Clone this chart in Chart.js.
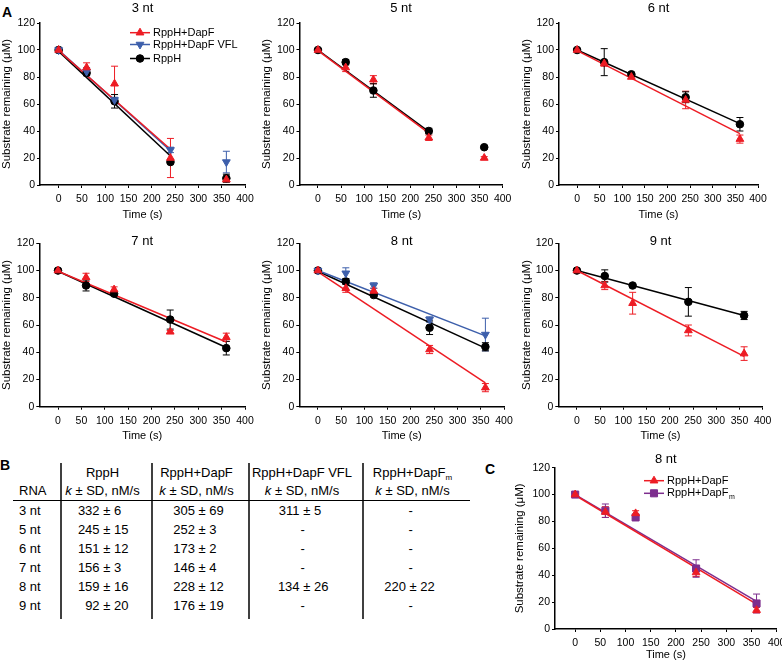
<!DOCTYPE html>
<html><head><meta charset="utf-8">
<script src="https://cdn.jsdelivr.net/npm/chart.js@4/dist/chart.umd.min.js"></script>
<style>
html,body{margin:0;padding:0;background:#fff;overflow:hidden;width:782px;height:663px;}
body{position:relative;font-family:'Liberation Sans',Arial,Helvetica,sans-serif;color:#000;}
canvas{position:absolute;}
.lbl{position:absolute;font-weight:bold;font-size:14px;line-height:14px;}
#tbl{position:absolute;left:13px;top:463px;border-collapse:collapse;table-layout:fixed;width:457px;font-size:13px;}
#tbl td{padding:0;height:19px;line-height:19px;white-space:nowrap;vertical-align:middle;}
#tbl tr.h2 td{border-bottom:1.5px solid #000;height:18px;line-height:18px;}
#tbl td.c{text-align:center;padding-right:8px;}
#tbl td.rna{padding-left:6px;}
#tbl .n{display:inline-block;width:26px;text-align:right;}
#tbl sub{font-size:8px;vertical-align:-3px;line-height:0;}
#vlines{position:absolute;left:0;top:460px;z-index:10;}
</style></head><body>
<div class="lbl" style="left:2px;top:5px">A</div>
<div class="lbl" style="left:0px;top:458px">B</div>
<div class="lbl" style="left:485px;top:462px">C</div>

<canvas id="c3" width="262" height="222" style="left:0px;top:0px"></canvas>
<canvas id="c5" width="262" height="222" style="left:260px;top:0px"></canvas>
<canvas id="c6" width="262" height="222" style="left:520px;top:0px"></canvas>
<canvas id="c7" width="262" height="218" style="left:0px;top:225px"></canvas>
<canvas id="c8" width="262" height="218" style="left:260px;top:225px"></canvas>
<canvas id="c9" width="262" height="218" style="left:520px;top:225px"></canvas>
<canvas id="cC" width="290" height="223" style="left:505px;top:440px"></canvas>

<table id="tbl"><colgroup><col style="width:48px"><col style="width:91px"><col style="width:97px"><col style="width:114px"><col style="width:107px"></colgroup><tbody id="tb"></tbody></table>
<svg id="vlines" width="480" height="165" xmlns="http://www.w3.org/2000/svg">
  <g stroke="#000" stroke-width="1.5">
    <line x1="61" y1="3" x2="61" y2="159"/>
    <line x1="152" y1="3" x2="152" y2="159"/>
    <line x1="249" y1="3" x2="249" y2="159"/>
    <line x1="363" y1="3" x2="363" y2="159"/>
  </g>
</svg>

<script>
const FONT = "'Liberation Sans', Arial, Helvetica, sans-serif";
Chart.defaults.font.family = FONT;
Chart.defaults.color = '#000';

// ---------- shared axis data ----------
const times = [0, 60, 120, 240, 360];
const xTickValues = [0, 50, 100, 150, 200, 250, 300, 350, 400];
const yTickValues = [0, 20, 40, 60, 80, 100, 120];
const fitShort = [0, 240];
const fitLong = [0, 360];

// ---------- 3 nt ----------
const nt3Dapf = [100, 87, 75, 20, 4];
const nt3DapfSd = [1, 3.5, 13, 14.5, 1];
const nt3Vfl = [100, 84, 63, 26, 17];
const nt3VflSd = [2, 3, 2, 2, 8];
const nt3Rpph = [100, 83, 62, 17, 5];
const nt3RpphSd = [1, 2, 5, 1, 3];
const nt3DapfFit = [99.5, 26.5];
const nt3VflFit = [100, 25.5];
const nt3RpphFit = [99, 21.5];

// ---------- 5 nt ----------
const nt5Dapf = [100, 87, 78, 35, 20];
const nt5DapfSd = [1, 3, 3, 2, 1];
const nt5Rpph = [100, 91, 70, 40, 28];
const nt5RpphSd = [1, 2, 5, 2, 1];
const nt5DapfFit = [99.5, 38.5];
const nt5RpphFit = [100, 39.5];

// ---------- 6 nt ----------
const nt6Dapf = [100, 90, 80, 63, 34];
const nt6DapfSd = [1, 2, 1, 6.5, 3];
const nt6Rpph = [100, 91, 82, 65, 45];
const nt6RpphSd = [1, 10, 1, 4, 5];
const nt6DapfFit = [99.5, 38];
const nt6RpphFit = [100, 45.5];

// ---------- 7 nt ----------
const nt7Dapf = [100, 95, 86, 55, 51];
const nt7DapfSd = [1, 3, 2, 1, 3];
const nt7Rpph = [100, 89, 83, 64, 43];
const nt7RpphSd = [1, 4, 1, 7, 5];
const nt7DapfFit = [99.5, 47.5];
const nt7RpphFit = [99.5, 43.5];

// ---------- 8 nt ----------
const nt8Dapf = [100, 87, 85, 42, 14];
const nt8DapfSd = [1, 3, 2, 3, 3];
const nt8Vfl = [100, 98, 89, 64, 53];
const nt8VflSd = [1, 4, 2, 2, 12];
const nt8Rpph = [100, 92, 82, 58, 44];
const nt8RpphSd = [1, 2, 1, 5, 3];
const nt8DapfFit = [99, 17.5];
const nt8VflFit = [100, 52];
const nt8RpphFit = [99.5, 43];

// ---------- 9 nt ----------
const nt9Dapf = [100, 89, 76, 56, 39];
const nt9DapfSd = [1, 3, 8, 4, 5];
const nt9Rpph = [100, 96, 89, 77, 67];
const nt9RpphSd = [1, 4.5, 1, 10.5, 3];
const nt9DapfFit = [100, 37];
const nt9RpphFit = [100, 67];

// ---------- panel C (8 nt) ----------
const cDapf = [100, 87, 86, 42, 14];
const cDapfSd = [1, 4, 2, 3, 2];
const cDapfm = [100, 88, 83, 45, 19];
const cDapfmSd = [1, 5, 1, 6.5, 7];
const cDapfFit = [99.5, 18.5];
const cDapfmFit = [100, 20.5];

// ---------- table B ----------
const rnaLabels = ['3 nt', '5 nt', '6 nt', '7 nt', '8 nt', '9 nt'];
const kRpph = [332, 245, 151, 156, 159, 92];
const sdRpph = [6, 15, 12, 3, 16, 20];
const kDapf = [305, 252, 173, 146, 228, 176];
const sdDapf = [69, 3, 2, 4, 12, 19];
const kVfl = [311, null, null, null, 134, null];
const sdVfl = [5, null, null, null, 26, null];
const kDapfm = [null, null, null, null, 220, null];
const sdDapfm = [null, null, null, null, 22, null];

// ---------- styles ----------
const RED = '#ed1c24', BLUE = '#3d5fab', BLACK = '#000000', PURPLE = '#7d2e8e';

function pts(label, ys, sd, color, style, rot, radius, sub) {
  return {
    label: label, sub: sub || '',
    data: times.map((t, i) => ({x: t, y: ys[i]})),
    errorBars: sd, showLine: false,
    pointStyle: style, pointRotation: rot, pointRadius: radius,
    backgroundColor: color, borderColor: color, pointBorderWidth: 1
  };
}
function fit(xs, ys, color) {
  return {
    label: '', isFit: true,
    data: xs.map((x, i) => ({x: x, y: ys[i]})),
    showLine: true, pointRadius: 0, borderColor: color, backgroundColor: color, borderWidth: 1.5
  };
}

const errorBarPlugin = {
  id: 'errorBars',
  beforeDatasetsDraw(chart) {
    const ctx = chart.ctx, xs = chart.scales.x, ys = chart.scales.y;
    ctx.save();
    chart.data.datasets.forEach(ds => {
      if (!ds.errorBars) return;
      ctx.strokeStyle = ds.borderColor; ctx.lineWidth = 1;
      ds.data.forEach((p, i) => {
        const e = ds.errorBars[i]; if (!e) return;
        const px = xs.getPixelForValue(p.x);
        const yt = ys.getPixelForValue(p.y + e), yb = ys.getPixelForValue(p.y - e);
        ctx.beginPath();
        ctx.moveTo(px, yt); ctx.lineTo(px, yb);
        ctx.moveTo(px - 3.5, yt); ctx.lineTo(px + 3.5, yt);
        ctx.moveTo(px - 3.5, yb); ctx.lineTo(px + 3.5, yb);
        ctx.stroke();
      });
    });
    ctx.restore();
  }
};

const lineLegendPlugin = {
  id: 'lineLegend',
  afterDraw(chart, args, opts) {
    if (!opts || !opts.ys) return;
    const ctx = chart.ctx;
    const items = chart.data.datasets.filter(d => !d.isFit);
    items.forEach((ds, i) => {
      const y = opts.ys[i];
      ctx.save();
      ctx.strokeStyle = ds.borderColor; ctx.fillStyle = ds.backgroundColor; ctx.lineWidth = 1.5;
      ctx.beginPath(); ctx.moveTo(opts.x0, y); ctx.lineTo(opts.x1, y); ctx.stroke();
      ctx.lineWidth = 1;
      Chart.helpers.drawPoint(ctx, {pointStyle: ds.pointStyle, rotation: ds.pointRotation || 0, radius: ds.pointRadius, borderWidth: 1}, (opts.x0 + opts.x1) / 2, y);
      ctx.fillStyle = '#000';
      ctx.font = '11px ' + FONT;
      ctx.textBaseline = 'middle'; ctx.textAlign = 'left';
      ctx.fillText(ds.label, opts.tx, y);
      if (ds.sub) {
        const w = ctx.measureText(ds.label).width;
        ctx.font = '7px ' + FONT;
        ctx.fillText(ds.sub, opts.tx + w + 0.5, y + 4);
      }
      ctx.restore();
    });
  }
};

function makeScales(cfg) {
  const grid = {display: true, drawOnChartArea: false, drawTicks: true, tickLength: 3, tickColor: '#000', tickWidth: 1};
  const border = {display: true, color: '#000', width: 1.5};
  return {
    x: {
      type: 'linear', min: -40, max: 400,
      afterBuildTicks: s => { s.ticks = xTickValues.map(v => ({value: v})); },
      afterFit: s => { s.height = cfg.xh; },
      grid: grid, border: border,
      ticks: {color: '#000', font: {size: 10.5}, padding: 5, maxRotation: 0, minRotation: 0, autoSkip: false},
      title: {display: true, text: 'Time (s)', color: '#000', font: {size: 11}, padding: {top: 0, bottom: cfg.xtpb}}
    },
    y: {
      type: 'linear', min: 0, max: 120,
      afterBuildTicks: s => { s.ticks = yTickValues.map(v => ({value: v})); },
      afterFit: s => { s.width = cfg.yw; },
      grid: grid, border: border,
      ticks: {color: '#000', font: {size: 10.5}, padding: 2},
      title: {display: true, text: 'Substrate remaining (μM)', color: '#000', font: {size: 11.5}, padding: {top: cfg.ytpt, bottom: 0}}
    }
  };
}

function makeChart(id, cfg) {
  return new Chart(document.getElementById(id), {
    type: 'scatter',
    data: {datasets: cfg.datasets},
    options: {
      responsive: false, animation: false, devicePixelRatio: 1,
      layout: {padding: {left: 0, right: cfg.pr, top: 0, bottom: 0}},
      plugins: {
        legend: {display: false}, tooltip: {enabled: false},
        title: {display: true, text: cfg.title, fullSize: false, color: '#000', font: {size: 13, weight: 'normal'}, padding: {top: cfg.tpt, bottom: cfg.tpb}},
        lineLegend: cfg.legend || {}
      },
      scales: makeScales(cfg)
    },
    plugins: [errorBarPlugin, lineLegendPlugin]
  });
}

const row1 = {xh: 37, xtpb: 0.4, tpt: 0.2, tpb: 7.2, ytpt: 0};
const row2 = {xh: 36.3, xtpb: 0.4, tpt: 8.9, tpb: -6.2, ytpt: 0};

makeChart('c3', Object.assign({}, row1, {title: '3 nt', yw: 40, pr: 17,
  legend: {x0: 130, x1: 150, tx: 153, ys: [32.7, 44.5, 58.5]},
  datasets: [
    pts('RppH+DapF', nt3Dapf, nt3DapfSd, RED, 'triangle', 0, 4.5),
    pts('RppH+DapF VFL', nt3Vfl, nt3VflSd, BLUE, 'triangle', 180, 4.5),
    pts('RppH', nt3Rpph, nt3RpphSd, BLACK, 'circle', 0, 3.8),
    fit(fitShort, nt3DapfFit, RED), fit(fitShort, nt3VflFit, BLUE), fit(fitShort, nt3RpphFit, BLACK)
  ]}));

makeChart('c5', Object.assign({}, row1, {title: '5 nt', yw: 39.5, pr: 19.3,
  datasets: [
    pts('RppH+DapF', nt5Dapf, nt5DapfSd, RED, 'triangle', 0, 4.5),
    pts('RppH', nt5Rpph, nt5RpphSd, BLACK, 'circle', 0, 3.8),
    fit(fitShort, nt5DapfFit, RED), fit(fitShort, nt5RpphFit, BLACK)
  ]}));

makeChart('c6', Object.assign({}, row1, {title: '6 nt', yw: 39, pr: 24,
  datasets: [
    pts('RppH+DapF', nt6Dapf, nt6DapfSd, RED, 'triangle', 0, 4.5),
    pts('RppH', nt6Rpph, nt6RpphSd, BLACK, 'circle', 0, 3.8),
    fit(fitLong, nt6DapfFit, RED), fit(fitLong, nt6RpphFit, BLACK)
  ]}));

makeChart('c7', Object.assign({}, row2, {title: '7 nt', yw: 39.3, pr: 17,
  datasets: [
    pts('RppH+DapF', nt7Dapf, nt7DapfSd, RED, 'triangle', 0, 4.5),
    pts('RppH', nt7Rpph, nt7RpphSd, BLACK, 'circle', 0, 3.8),
    fit(fitLong, nt7DapfFit, RED), fit(fitLong, nt7RpphFit, BLACK)
  ]}));

makeChart('c8', Object.assign({}, row2, {title: '8 nt', yw: 39.3, pr: 18,
  datasets: [
    pts('RppH+DapF', nt8Dapf, nt8DapfSd, RED, 'triangle', 0, 4.5),
    pts('RppH+DapF VFL', nt8Vfl, nt8VflSd, BLUE, 'triangle', 180, 4.5),
    pts('RppH', nt8Rpph, nt8RpphSd, BLACK, 'circle', 0, 3.8),
    fit(fitLong, nt8DapfFit, RED), fit(fitLong, nt8VflFit, BLUE), fit(fitLong, nt8RpphFit, BLACK)
  ]}));

makeChart('c9', Object.assign({}, row2, {title: '9 nt', yw: 38.3, pr: 19.3,
  datasets: [
    pts('RppH+DapF', nt9Dapf, nt9DapfSd, RED, 'triangle', 0, 4.5),
    pts('RppH', nt9Rpph, nt9RpphSd, BLACK, 'circle', 0, 3.8),
    fit(fitLong, nt9DapfFit, RED), fit(fitLong, nt9RpphFit, BLACK)
  ]}));

makeChart('cC', {title: '8 nt', yw: 50, pr: 18.3, xh: 34, xtpb: 1.4, tpt: 11.2, tpb: 0.9, ytpt: 8.1,
  legend: {x0: 139, x1: 159, tx: 162, ys: [40.7, 53.3]},
  datasets: [
    pts('RppH+DapF', cDapf, cDapfSd, RED, 'triangle', 0, 4.5),
    pts('RppH+DapF', cDapfm, cDapfmSd, PURPLE, 'rect', 0, 5, 'm'),
    fit(fitLong, cDapfFit, RED), fit(fitLong, cDapfmFit, PURPLE)
  ]});

// ---------- table ----------
(function buildTable() {
  const tb = document.getElementById('tb');
  const kPad = [12.6, 17, 24.6, 17];
  const dashPad = [0, 0, 51.5, 45.5];
  const heads1 = ['RppH', 'RppH+DapF', 'RppH+DapF VFL', 'RppH+DapF<sub>m</sub>'];
  let h = '<tr class="h1"><td></td>' + heads1.map(t => '<td class="c">' + t + '</td>').join('') + '</tr>';
  h += '<tr class="h2"><td class="rna">RNA</td>' + heads1.map(() => '<td class="c"><i>k</i> ± SD, nM/s</td>').join('') + '</tr>';
  const cols = [[kRpph, sdRpph], [kDapf, sdDapf], [kVfl, sdVfl], [kDapfm, sdDapfm]];
  rnaLabels.forEach((r, i) => {
    h += '<tr><td class="rna">' + r + '</td>';
    cols.forEach((c, j) => {
      const k = c[0][i], sd = c[1][i];
      if (k === null) h += '<td style="padding-left:' + dashPad[j] + 'px">-</td>';
      else h += '<td style="padding-left:' + kPad[j] + 'px"><span class="n">' + k + '</span>&nbsp;±&nbsp;' + sd + '</td>';
    });
    h += '</tr>';
  });
  tb.innerHTML = h;
})();
</script>
</body></html>
